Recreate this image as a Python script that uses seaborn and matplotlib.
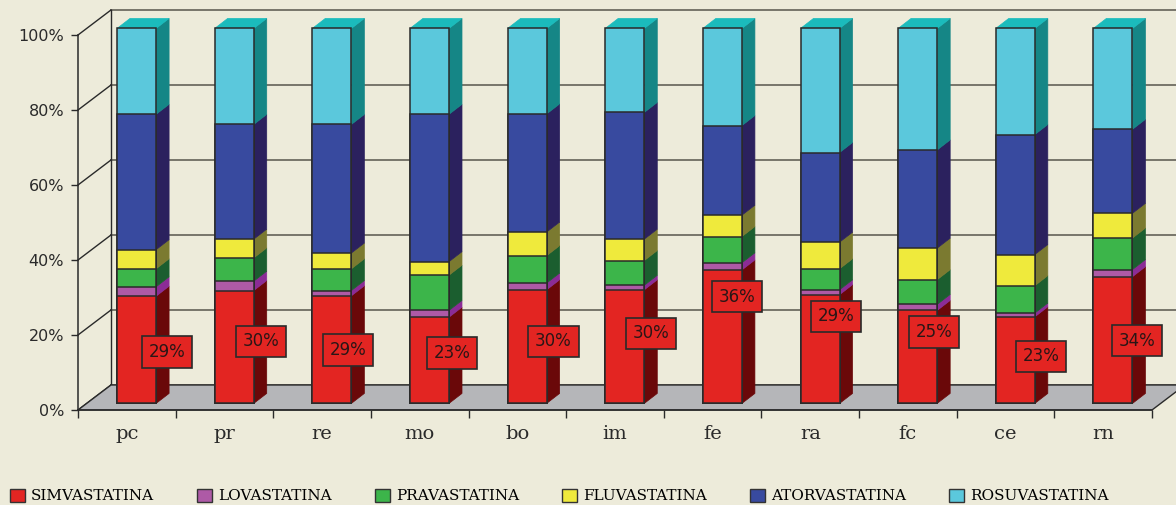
import numpy as np
import pandas as pd
import seaborn as sns
import matplotlib.pyplot as plt
from matplotlib.patches import Polygon, Patch

# data (% of prescriptions per unit)
units = ["pc", "pr", "re", "mo", "bo", "im", "fe", "ra", "fc", "ce", "rn"]
drugs = ["SIMVASTATINA", "LOVASTATINA", "PRAVASTATINA", "FLUVASTATINA",
         "ATORVASTATINA", "ROSUVASTATINA"]
simva = [28.6, 30.1, 28.7, 23.0, 30.3, 30.3, 35.6, 29.0, 24.8, 23.1, 33.8]
lova = [2.5, 2.5, 1.4, 1.8, 1.8, 1.2, 1.9, 1.3, 1.6, 1.0, 1.9]
prava = [4.8, 6.2, 5.8, 9.4, 7.3, 6.6, 7.0, 5.6, 6.6, 7.3, 8.4]
fluva = [5.1, 5.0, 4.2, 3.6, 6.3, 5.7, 5.7, 7.1, 8.4, 8.3, 6.6]
atorva = [36.1, 30.6, 34.3, 39.3, 31.5, 33.8, 23.9, 23.9, 26.2, 32.0, 22.4]
rosu = [22.9, 25.6, 25.6, 22.9, 22.8, 22.4, 25.9, 33.1, 32.4, 28.3, 26.9]
simva_labels = ["29%", "30%", "29%", "23%", "30%", "30%", "36%", "29%", "25%", "23%", "34%"]

# layout / style
BG = "#EDEBDA"
EDGE = "#2a2a2a"
front = ["#E32522", "#AE5AA6", "#3CB54A", "#EFEA3C", "#384A9F", "#5BC8DC"]
side = ["#6A0809", "#8B2C96", "#1B5E2F", "#7B7A30", "#2B215E", "#158686"]
top_col = "#1BBBBC"
FDX, FDY = 0.338, 6.67     # floor depth (x units, %)
BOX, BOY = 0.10, 1.75      # bar front offset from front plane
BDX, BDY = 0.133, 2.67     # bar depth
BW = 0.40
lab_dx = [0.41, 0.37, 0.27, 0.33, 0.37, 0.37, 0.25, 0.26, 0.27, 0.36, 0.35]
lab_y = [15.5, 18.3, 16.0, 15.2, 18.3, 20.4, 30.2, 25.0, 20.8, 14.3, 18.5]

series = [simva, lova, prava, fluva, atorva, rosu]
rows = []
for j, d in enumerate(drugs):
    for i, u in enumerate(units):
        rows.append({"unit": u, "pos": i + BOX, "drug": d, "value": series[j][i]})
df = pd.DataFrame(rows)
df["top"] = df.groupby("unit")["value"].cumsum()
df["low"] = df["top"] - df["value"]

fig = plt.figure(figsize=(11.76, 5.05), dpi=100, facecolor=BG)
ax = fig.add_axes([78 / 1176, 95 / 505, 1074 / 1176, 375 / 505])
ax.set_facecolor("none")

# back wall grid and left wall edges
for k in range(0, 101, 20):
    ax.plot([-0.5 + FDX, 11.5], [k + FDY, k + FDY], color="#77756a", lw=1.4,
            zorder=0.5, clip_on=False)
    ax.plot([-0.5, -0.5 + FDX], [k, k + FDY], color=EDGE, lw=1, zorder=0.6, clip_on=False)
ax.plot([-0.5 + FDX, -0.5 + FDX], [FDY, 100 + FDY], color=EDGE, lw=1, zorder=0.6, clip_on=False)

# floor
floor = Polygon([(-0.5, 0), (10.5, 0), (10.5 + FDX, FDY), (-0.5 + FDX, FDY)],
                closed=True, facecolor="#B5B6B9", edgecolor=EDGE, lw=1,
                zorder=1, clip_on=False)
ax.add_patch(floor)

# front faces, stacked by overlaying cumulative bars
for j in reversed(range(len(drugs))):
    sub = df[df["drug"] == drugs[j]]
    sns.barplot(data=sub, x="pos", y="top", native_scale=True, width=BW,
                color=front[j], saturation=1, edgecolor=EDGE, linewidth=1.1,
                errorbar=None, bottom=BOY, zorder=3, clip_on=False, ax=ax)

# side and top faces
for _, r in df.iterrows():
    j = drugs.index(r["drug"])
    xr = r["pos"] + BW / 2
    y0, y1 = r["low"] + BOY, r["top"] + BOY
    ax.add_patch(Polygon([(xr, y0), (xr + BDX, y0 + BDY), (xr + BDX, y1 + BDY), (xr, y1)],
                         closed=True, facecolor=side[j], edgecolor=side[j], lw=0.5,
                         zorder=2.5, clip_on=False))
    if j == len(drugs) - 1:
        xl = r["pos"] - BW / 2
        ax.add_patch(Polygon([(xl, y1), (xl + BDX, y1 + BDY), (xr + BDX, y1 + BDY), (xr, y1)],
                             closed=True, facecolor=top_col, edgecolor=top_col, lw=0.5,
                             zorder=2.5, clip_on=False))

# value labels for simvastatina
for i, t in enumerate(simva_labels):
    ax.text(i + lab_dx[i], lab_y[i], t, ha="center", va="center", fontsize=12,
            color="#2a1616", zorder=6,
            bbox=dict(boxstyle="square,pad=0.4", fc=front[0], ec=EDGE, lw=1.2))

ax.set_xlim(-0.5, 10.5)
ax.set_ylim(0, 100)
ax.set_xlabel("")
ax.set_ylabel("")
ax.set_xticks(range(len(units)))
ax.set_xticklabels(units, fontfamily="DejaVu Serif", fontsize=14, color="#2a2a2a")
ax.set_xticks(np.arange(-0.5, len(units), 1), minor=True)
ax.tick_params(axis="x", which="major", length=0, pad=11)
ax.tick_params(axis="x", which="minor", length=6, width=1, color=EDGE, direction="out")
ax.set_yticks(range(0, 101, 20))
ax.set_yticklabels([f"{v}%" for v in range(0, 101, 20)])
ax.tick_params(axis="y", length=5, width=1, pad=5, labelsize=11.5, colors="#2a2a2a")
for s in ["top", "right"]:
    ax.spines[s].set_visible(False)
for s in ["bottom", "left"]:
    ax.spines[s].set_color(EDGE)
    ax.spines[s].set_linewidth(1.1)
    ax.spines[s].set_zorder(2)

handles = [Patch(facecolor=c, edgecolor="#333333", lw=1) for c in front]
fig.legend(handles, drugs, loc="center left", bbox_to_anchor=(10 / 1176, 9 / 505),
           ncol=6, frameon=False, prop={"family": "DejaVu Serif", "size": 11},
           handlelength=0.95, handleheight=0.95, handletextpad=0.4,
           columnspacing=2.85, borderaxespad=0, borderpad=0)

fig.savefig("out.png", dpi=100, facecolor=BG)
